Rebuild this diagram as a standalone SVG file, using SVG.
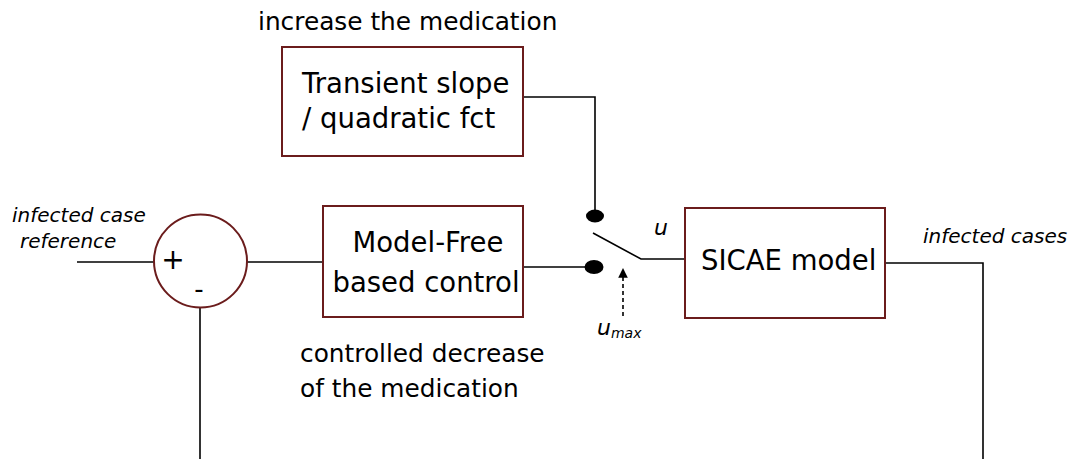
<svg xmlns="http://www.w3.org/2000/svg" width="1074" height="459" viewBox="0 0 1074 459">
  <style>
    .blk { fill: #ffffff; stroke: #6b1c1c; stroke-width: 2; }
    .wire { fill: none; stroke: #000000; stroke-width: 1.6; }
    .lbl { font-family: "DejaVu Sans", Verdana, sans-serif; fill: #000000; }
    .it { font-style: italic; }
    .box { font-size: 27.5px; }
    .note { font-size: 24.8px; }
    .sig { font-size: 20px; }
  </style>
  <defs>
    <marker id="arrow" viewBox="0 0 10 10" refX="9" refY="5" markerWidth="6" markerHeight="6" orient="auto">
      <path d="M0,0 L10,5 L0,10 z" fill="#000000"/>
    </marker>
  </defs>
  <rect width="1074" height="459" fill="#ffffff"/>

  <!-- signal wires -->
  <g id="connectors">
    <line class="wire" x1="77" y1="262" x2="154" y2="262"/>
    <line class="wire" x1="247" y1="262" x2="323" y2="262"/>
    <polyline class="wire" points="523,267 594,267"/>
    <polyline class="wire" points="523,97 595,97 595,216"/>
    <!-- switch lever -->
    <polyline class="wire" points="593,233 641,259 685,259"/>
    <!-- saturation input -->
    <line class="wire" x1="623" y1="316" x2="623" y2="269" stroke-dasharray="4,3" marker-end="url(#arrow)"/>
    <polyline class="wire" points="885,263 983,263 983,459"/>
    <line class="wire" x1="200" y1="307" x2="200" y2="459"/>
  </g>

  <!-- switch contacts -->
  <g id="switch">
    <ellipse cx="595" cy="216" rx="9" ry="6.5" fill="#000000"/>
    <ellipse cx="594" cy="267" rx="9.5" ry="7" fill="#000000"/>
  </g>

  <g id="summer">
    <circle class="blk" cx="200.5" cy="261" r="46.5"/>
    <text class="lbl" x="173" y="269" font-size="28" text-anchor="middle">+</text>
    <text class="lbl" x="199" y="298" font-size="26" text-anchor="middle">-</text>
  </g>

  <g id="model-free">
    <rect class="blk" x="323" y="206" width="200" height="111"/>
    <text class="lbl box" x="428" y="252" text-anchor="middle">Model-Free</text>
    <text class="lbl box" x="426" y="292" text-anchor="middle">based control</text>
  </g>

  <g id="transient">
    <rect class="blk" x="282" y="47" width="241" height="109"/>
    <text class="lbl box" x="302" y="93">Transient slope</text>
    <text class="lbl box" x="302" y="128">/ quadratic fct</text>
  </g>

  <g id="sicae">
    <rect class="blk" x="685" y="208" width="200" height="110"/>
    <text class="lbl box" x="701" y="270">SICAE model</text>
  </g>

  <g id="labels">
    <text class="lbl it sig" x="12" y="222">infected case</text>
    <text class="lbl it sig" x="20" y="248">reference</text>
    <text class="lbl it sig" x="923" y="243">infected cases</text>
    <text class="lbl note" x="258" y="30">increase the medication</text>
    <text class="lbl note" x="300" y="362">controlled decrease</text>
    <text class="lbl note" x="300" y="397">of the medication</text>
    <text class="lbl it" x="654" y="235" font-size="22">u</text>
    <text class="lbl it" x="597" y="335" font-size="22">u<tspan font-size="14" dy="3">max</tspan></text>
  </g>
</svg>
